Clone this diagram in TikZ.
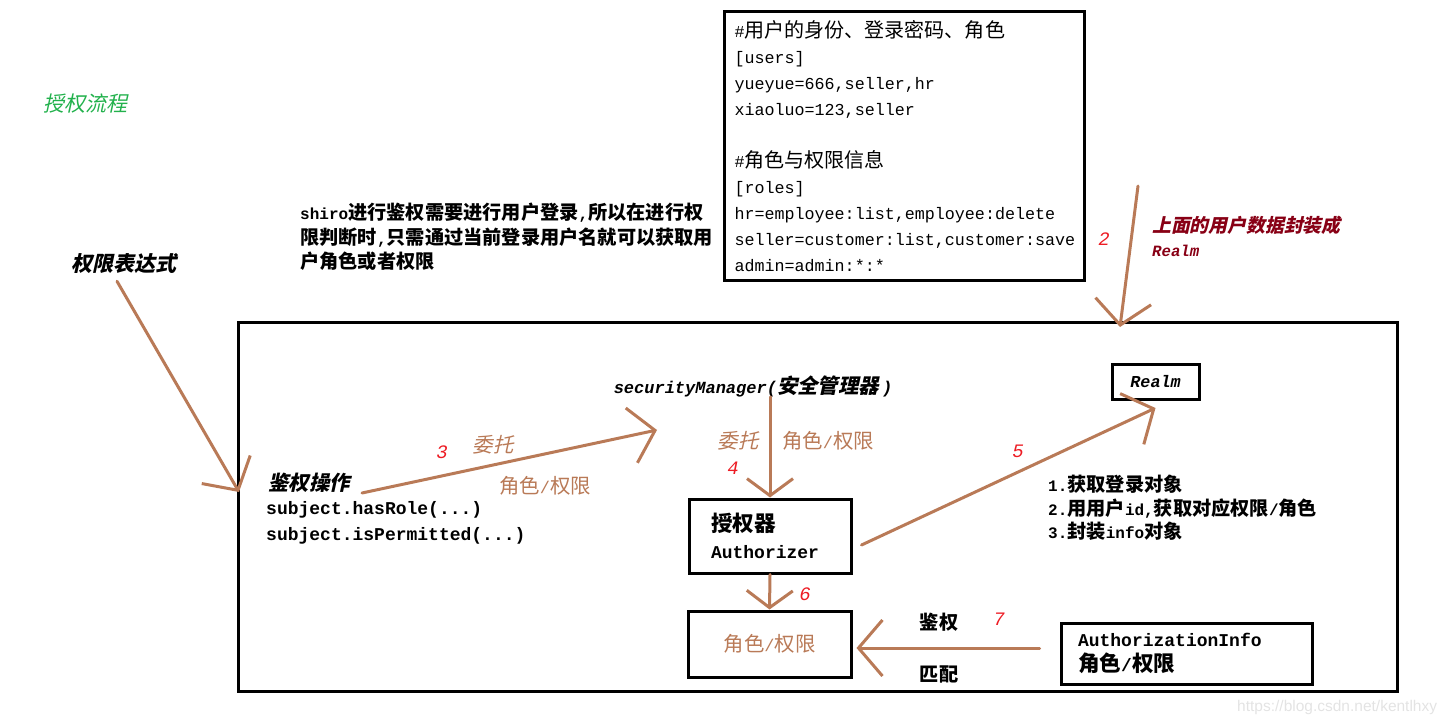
\documentclass[tikz,border=0pt]{standalone}
\usepackage{fontspec}
\setmainfont{Liberation Mono}
\newfontfamily\zhfont{Noto Sans CJK SC}[Scale=1.2]
\newfontfamily\zhslfont{Noto Sans CJK SC}[Scale=1.2, FakeSlant=0.22]
\newfontfamily\urlfont{Liberation Sans}
\newcommand\zh[1]{{\zhfont #1}}
\newcommand\zhs[1]{{\zhslfont #1}}
\definecolor{paintbrown}{HTML}{B97A57}
\definecolor{paintgreen}{HTML}{22B14C}
\definecolor{paintred}{HTML}{ED1C24}
\definecolor{paintdarkred}{HTML}{880015}
\definecolor{wmgray}{HTML}{E3E3E3}
\usetikzlibrary{arrows.meta, positioning, calc}

\begin{document}
\begin{tikzpicture}[x=1pt, y=-1pt, every node/.style={inner sep=0pt},
    box/.style={draw, line width=3pt},
    flow/.style={draw=paintbrown, line width=3pt, line cap=round,
      -{Straight Barb[length=24pt, width=56pt]}},
    shorttip/.style={-{Straight Barb[length=17pt, width=46pt]}},
    num/.style={text=paintred, font=\fontsize{19}{19}\selectfont\itshape},
    note/.style={text=paintbrown, font=\fontsize{17}{20}\selectfont}]
  \useasboundingbox (0,0) rectangle (1447,725);

  % titles and notes outside the frame
  \node[text=paintgreen, font=\fontsize{17.5}{21}\selectfont] (title) at (85,104) {\zhs{授权流程}};
  \node[font=\bfseries\fontsize{17.5}{21}\selectfont] (expr) at (124,264) {\zhs{权限表达式}};
  \node[anchor=west, align=left, font=\bfseries\fontsize{16}{24.5}\selectfont] (hint) at (300,237)
    {shiro\zh{进行鉴权需要进行用户登录},\zh{所以在进行权}\\
     \zh{限判断时},\zh{只需通过当前登录用户名就可以获取用}\\
     \zh{户角色或者权限}};
  \node[box, anchor=north west, minimum width=360pt, minimum height=269pt, text width=340pt,
        inner xsep=10pt, align=left, font=\fontsize{16.7}{26}\selectfont] (ini) at (723,10)
    {\#\zh{用户的身份、登录密码、角色}\\
     {[users]}\\
     yueyue=666,seller,hr\\
     xiaoluo=123,seller\\[26pt]
     \#\zh{角色与权限信息}\\
     {[roles]}\\
     hr=employee:list,employee:delete\\
     seller=customer:list,customer:save\\
     admin=admin:*:*};
  \node[anchor=west, align=left, text=paintdarkred, font=\bfseries\itshape\fontsize{15.7}{24}\selectfont]
    (realmnote) at (1152,236) {\zhs{上面的用户数据封装成}\\Realm};
  \node[num] (n2) at (1104,239) {2};

  % frame and its parts
  \node[box, minimum width=1159pt, minimum height=369pt] (frame) at (817.5,506.5) {};
  \node[box, minimum width=87pt, minimum height=35pt, font=\bfseries\itshape\fontsize{16.7}{20}\selectfont]
    (realm) at (1155.5,382) {Realm};
  \node[font=\bfseries\itshape\fontsize{17}{20}\selectfont] (secmgr) at (753,386)
    {securityManager(\zhs{安全管理器}\hspace{3pt})};
  \node[anchor=west, font=\bfseries\fontsize{17}{20}\selectfont] (op) at (268,483) {\zhs{鉴权操作}};
  \node[anchor=west, align=left, font=\bfseries\fontsize{18}{26}\selectfont] (calls) at (266,523)
    {subject.hasRole(...)\\subject.isPermitted(...)};
  \node[box, minimum height=74pt, text width=118pt, inner xsep=22pt, align=left,
        font=\bfseries\fontsize{18}{27}\selectfont] (authz) at (770,536) {\zh{授权器}\\Authorizer};
  \node[box, minimum width=163pt, minimum height=66pt, note] (perm) at (769.5,644) {\zh{角色}/\zh{权限}};
  \node[box, minimum height=61pt, text width=217pt, inner xsep=17pt, align=left,
        font=\bfseries\fontsize{18}{25}\selectfont] (info) at (1186.5,653.5)
    {AuthorizationInfo\\\zh{角色}/\zh{权限}};
  \node[anchor=west, align=left, font=\bfseries\fontsize{16}{23.5}\selectfont] (steps) at (1048,508)
    {1.\zh{获取登录对象}\\2.\zh{用用户}id,\zh{获取对应权限}/\zh{角色}\\3.\zh{封装}info\zh{对象}};

  % connector labels
  \node[num] (n3) at (442,452) {3};
  \node[note] (dlg3) at (493,445) {\zhs{委托}};
  \node[note] (role3) at (545,486) {\zh{角色}/\zh{权限}};
  \node[note] (dlg4) at (738,441) {\zhs{委托}};
  \node[note] (role4) at (828,441) {\zh{角色}/\zh{权限}};
  \node[num] (n4) at (733,468) {4};
  \node[num] (n5) at (1018,451) {5};
  \node[num] (n6) at (805,594) {6};
  \node[num] (n7) at (999,619) {7};
  \node[font=\bfseries\fontsize{16}{20}\selectfont] (check) at (939,622) {\zh{鉴权}};
  \node[font=\bfseries\fontsize{16}{20}\selectfont] (match) at (939,674) {\zh{匹配}};
  \node[anchor=west, text=wmgray, font=\urlfont\fontsize{15.5}{15.5}\selectfont] (wm) at (1237,707)
    {https://blog.csdn.net/kentlhxy};

  % connectors
  \coordinate (opin) at (239,492);
  \coordinate (datatail) at (1138,186);
  \coordinate (datatip) at (1120,327);
  \coordinate (mgrin) at (657,430);
  \draw[flow] ([xshift=-7pt, yshift=-7pt]expr.south) -- (opin);
  \draw[flow] (datatail) -- (datatip);
  \draw[flow] ([xshift=12pt, yshift=-10pt]op.east) -- (mgrin);
  \draw[flow, shorttip] (secmgr.south -| authz.north) -- (authz.north);
  \draw[flow] ([xshift=9pt, yshift=-9pt]authz.east) -- ([yshift=-7pt]realm.south);
  \draw[flow, shorttip] (authz.south) -- (perm.north);
  \draw[flow] ($(info.west |- perm.east)+(-20,4)$) -- ($(perm.east)+(4,4)$);
\end{tikzpicture}
\end{document}
